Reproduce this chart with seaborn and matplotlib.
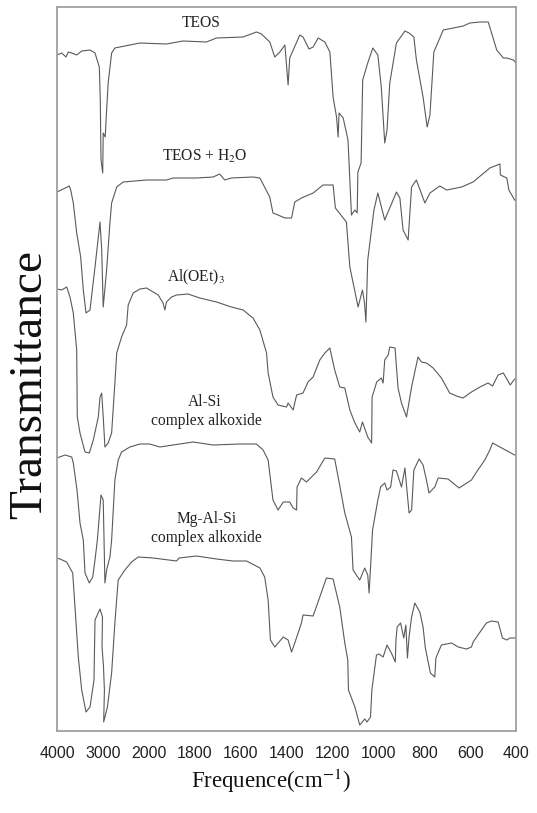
import numpy as np
import pandas as pd
import matplotlib
matplotlib.use("Agg")
import matplotlib.pyplot as plt
from matplotlib.ticker import NullLocator
import seaborn as sns

# ---------------- data (wavenumber in cm-1, transmittance in a.u., stacked) ----------------
samples = ["TEOS", "TEOS + H2O", "Al(OEt)3", "Al-Si complex alkoxide", "Mg-Al-Si complex alkoxide"]

teos_wn = [4000, 3898, 3804, 3754, 3680, 3571, 3462, 3281, 3172, 3078, 3057, 3041, 3004, 2993, 2950, 2919,
           2885, 2810, 2739, 2194, 1923, 1851, 1749, 1705, 1589, 1531, 1509, 1473, 1451, 1429, 1407, 1393,
           1386, 1342, 1328, 1302, 1284, 1262, 1233, 1211, 1197, 1182, 1175, 1171, 1153, 1132, 1117, 1102,
           1092, 1089, 1075, 1068, 1046, 1024, 1002, 987, 972, 962, 950, 921, 884, 866, 845, 834, 805, 787,
           775, 758, 717, 630, 601, 557, 521, 484, 455, 440, 411, 400]
teos_t = [676, 678, 674, 679, 678, 676, 680, 681, 678, 664, 631, 571, 558, 598, 594, 621,
          648, 678, 683, 688, 687, 690, 689, 693, 694, 699, 697, 689, 674, 679, 686, 646,
          673, 696, 694, 682, 684, 693, 689, 679, 634, 614, 594, 618, 613, 591, 516, 521,
          518, 559, 568, 651, 668, 683, 676, 644, 588, 601, 648, 688, 700, 698, 694, 671, 634, 604,
          616, 679, 701, 705, 708, 709, 709, 681, 673, 673, 671, 668]

teosh2o_wn = [4000, 3863, 3732, 3701, 3645, 3571, 3484, 3427, 3368, 3281, 3172, 3063, 3026, 2993, 2919, 2847,
              2810, 2699, 2558, 2049, 1923, 1894, 1792, 1720, 1691, 1669, 1640, 1546, 1516, 1473, 1459, 1437,
              1407, 1378, 1364, 1335, 1284, 1241, 1197, 1187, 1139, 1124, 1088, 1069, 1060, 1054, 1046, 1019,
              1002, 972, 921, 906, 892, 870, 855, 834, 797, 775, 732, 702, 637, 587, 514, 470, 468, 440, 431,
              406, 400]
teosh2o_t = [539, 542, 545, 541, 528, 498, 474, 441, 418, 421, 464, 509, 481, 424, 461, 508,
             528, 544, 549, 551, 551, 553, 553, 554, 557, 551, 553, 554, 553, 534, 518, 516,
             513, 513, 529, 533, 538, 546, 546, 523, 509, 464, 424, 441, 428, 409, 471, 521,
             538, 511, 539, 533, 501, 491, 544, 551, 528, 538, 545, 541, 544, 549, 563, 567, 556, 553, 541,
             531, 530]

aloet_wn = [4000, 3898, 3789, 3717, 3645, 3571, 3558, 3499, 3390, 3296, 3209, 3100, 3063, 3026, 2993, 2956,
            2885, 2810, 2739, 2699, 2593, 2484, 2449, 2340, 2194, 2049, 1981, 1959, 1938, 1930, 1923, 1901,
            1879, 1829, 1778, 1705, 1640, 1589, 1546, 1516, 1487, 1480, 1459, 1437, 1400, 1393, 1371, 1356,
            1328, 1306, 1284, 1255, 1233, 1211, 1190, 1168, 1146, 1124, 1102, 1081, 1069, 1046, 1029, 1027,
            1007, 987, 979, 972, 957, 950, 927, 914, 899, 877, 855, 827, 812, 790, 761, 725, 689, 659, 631,
            594, 557, 522, 502, 478, 455, 425, 406, 400]
aloet_t = [442, 441, 444, 434, 418, 381, 314, 298, 279, 278, 291, 314, 334, 338, 314, 284,
           288, 298, 348, 378, 394, 406, 426, 438, 442, 443, 439, 436, 428, 421, 429, 434,
           436, 437, 433, 429, 424, 421, 413, 401, 378, 358, 334, 326, 324, 328, 321, 336,
           338, 349, 354, 371, 378, 383, 361, 344, 343, 321, 308, 299, 309, 294, 288, 334,
           349, 353, 348, 371, 376, 384, 383, 343, 328, 314, 344, 374, 369, 368, 363, 353, 338, 335, 333,
           339, 344, 348, 345, 356, 358, 346, 352, 352]

alsi_wn = [4000, 3826, 3680, 3645, 3564, 3499, 3427, 3390, 3296, 3222, 3172, 3121, 3041, 2993, 2956, 2919,
           2847, 2810, 2739, 2667, 2593, 2412, 2194, 1996, 1952, 1865, 1807, 1720, 1604, 1531, 1502, 1480,
           1459, 1437, 1414, 1386, 1371, 1356, 1354, 1335, 1313, 1269, 1233, 1190, 1175, 1146, 1117, 1110,
           1081, 1059, 1046, 1040, 1025, 1015, 1002, 990, 972, 962, 946, 936, 921, 899, 884, 866, 855, 845,
           822, 805, 793, 779, 754, 739, 696, 648, 594, 572, 536, 514, 502, 406, 400]
alsi_t = [273, 276, 274, 268, 241, 208, 191, 158, 148, 154, 171, 191, 236, 231, 148, 161,
          174, 191, 251, 271, 279, 284, 287, 287, 284, 287, 289, 286, 287, 287, 281, 271,
          231, 221, 229, 229, 223, 221, 244, 253, 249, 259, 273, 272, 254, 218, 194, 161,
          151, 163, 156, 138, 201, 214, 231, 244, 248, 241, 244, 261, 260, 244, 263, 218, 221, 261,
          272, 266, 254, 238, 244, 253, 252, 243, 251, 259, 271, 281, 288, 276, 276]

mgalsi_wn = [4000, 3935, 3789, 3658, 3608, 3536, 3462, 3368, 3281, 3194, 3172, 3063, 3009, 3019, 2989, 2967,
             2983, 2902, 2810, 2739, 2667, 2521, 2375, 2231, 1981, 1879, 1868, 1792, 1705, 1633, 1574, 1516,
             1495, 1480, 1470, 1451, 1414, 1393, 1378, 1364, 1335, 1328, 1284, 1255, 1226, 1197, 1168, 1146,
             1133, 1130, 1102, 1081, 1059, 1049, 1034, 1028, 1008, 997, 979, 962, 943, 926, 923, 918, 903,
             889, 880, 873, 866, 855, 841, 819, 805, 795, 773, 754, 749, 725, 681, 652, 616, 594, 587, 529,
             507, 478, 459, 440, 427, 400]
mgalsi_t = [173, 172, 169, 158, 124, 74, 41, 19, 24, 51, 111, 122, 114, 84, 66, 41,
            9, 24, 58, 108, 151, 161, 169, 174, 173, 170, 173, 175, 172, 170, 170, 163,
            154, 131, 91, 84, 94, 91, 79, 88, 108, 116, 115, 134, 153, 152, 124, 88,
            71, 41, 24, 6, 12, 9, 14, 41, 76, 77, 74, 86, 78, 69, 91, 104, 108,
            93, 106, 73, 94, 114, 128, 119, 104, 83, 58, 54, 73, 86, 88, 84, 82, 84, 89, 108,
            110, 109, 93, 91, 93, 93]

tick_values = [4000, 3000, 2000, 1800, 1600, 1400, 1200, 1000, 800, 600, 400]
tick_labels = ["4000", "3000", "2000", "1800", "1600", "1400", "1200", "1000", "800", "600", "400"]

curve_labels = ["TEOS", "TEOS + H$_2$O", "Al(OEt)$_3$", "Al-Si", "complex alkoxide", "Mg-Al-Si", "complex alkoxide"]

# ---------------- build long table ----------------
series = [(teos_wn, teos_t), (teosh2o_wn, teosh2o_t), (aloet_wn, aloet_t),
          (alsi_wn, alsi_t), (mgalsi_wn, mgalsi_t)]
frames = []
for name, (wn, t) in zip(samples, series):
    frames.append(pd.DataFrame({"wavenumber": wn, "transmittance": t, "sample": name}))
df = pd.concat(frames, ignore_index=True)

# ---------------- style ----------------
sns.set_style("white")
plt.rcParams["font.family"] = ["Liberation Serif", "DejaVu Serif"]
plt.rcParams["mathtext.fontset"] = "stix"

fig = plt.figure(figsize=(5.37, 8.13), dpi=100)
ax = fig.add_axes([57 / 537, 1 - 731 / 813, (516 - 57) / 537, (731 - 7) / 813])


# piecewise-linear wavenumber axis: 4000-2000 compressed, 2000-400 expanded
def fwd(w):
    w = np.asarray(w, dtype=float)
    pos = np.where(w >= 2000, (4000 - w) / 1000.0, 2 + (2000 - w) / 200.0)
    return -pos


def inv(y):
    pos = -np.asarray(y, dtype=float)
    return np.where(pos <= 2, 4000 - 1000.0 * pos, 2000 - 200.0 * (pos - 2))


ax.set_xscale("function", functions=(fwd, inv))

line_color = "#5a5a5a"
sns.lineplot(data=df, x="wavenumber", y="transmittance", hue="sample",
             palette={s: line_color for s in samples}, estimator=None, sort=False,
             legend=False, linewidth=0.8, ax=ax)

ax.set_xlim(4000, 400)
ax.set_ylim(0, 724)
ax.set_xticks(tick_values)
ax.set_xticklabels(tick_labels, fontfamily="Liberation Sans", fontsize=11.5, color="#222222")
ax.xaxis.set_minor_locator(NullLocator())
ax.set_yticks([])
ax.tick_params(axis="x", direction="out", length=5, width=1, color="#a0a0a0", pad=6)

for sp in ax.spines.values():
    sp.set_color("#a0a0a0")
    sp.set_linewidth(1.3)

ax.set_xlabel("Frequence(cm$^{-1}$)", fontsize=16.5, color="#111111")
ax.set_ylabel("Transmittance", fontsize=34, color="#111111")
ax.xaxis.set_label_coords(0.467, -0.05)
ax.yaxis.set_label_coords(-0.013, 0.478)

# curve annotations (axes fraction positions)
label_pos = [(0.314, 0.978), (0.322, 0.793), (0.303, 0.626), (0.322, 0.454), (0.325, 0.428),
             (0.325, 0.293), (0.325, 0.267)]
for txt, (xf, yf) in zip(curve_labels, label_pos):
    ax.text(xf, yf, txt, transform=ax.transAxes, ha="center", va="center", fontsize=11.2, color="#222222")

fig.savefig("out.png", dpi=100)
